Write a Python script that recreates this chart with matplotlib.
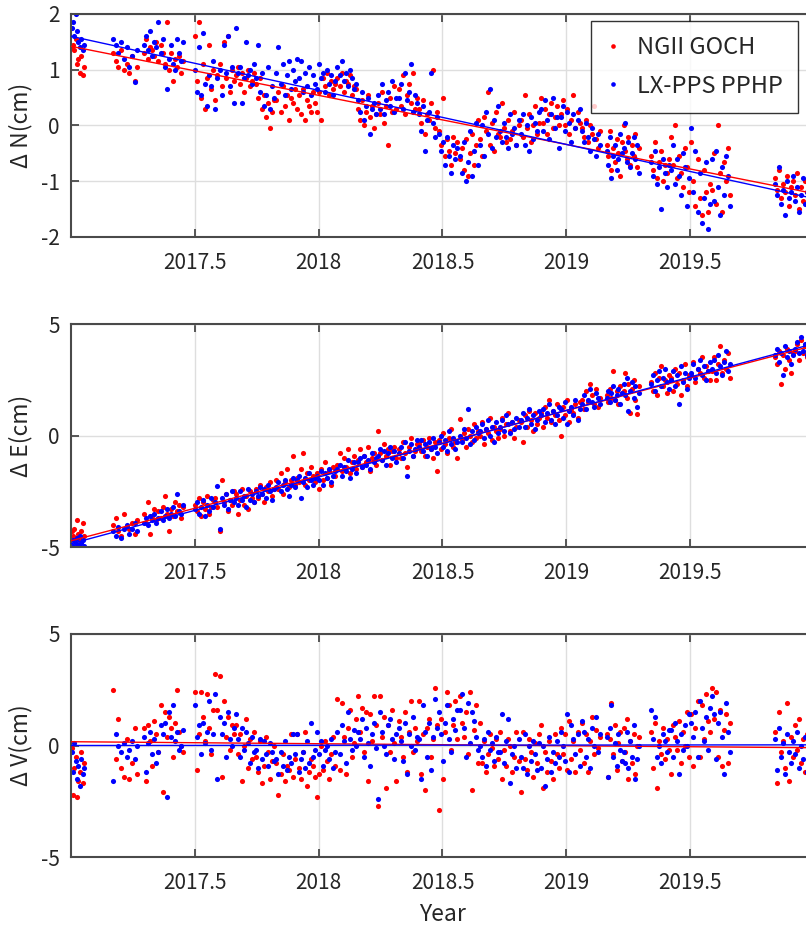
import matplotlib
matplotlib.use('Agg')
import matplotlib.pyplot as plt
import numpy as np

plt.rcParams['font.family'] = ['Noto Sans CJK KR', 'DejaVu Sans']

# observation epochs, days since 2017-01-01 (rows of 10)
obs_day = [
    1, 3, 5, 7, 9, 11, 13, 15, 17, 19,
    62, 66, 70, 74, 78, 82, 86, 90, 94, 98,
    108, 111, 114, 117, 120, 123, 126, 129, 132, 135,
    138, 141, 144, 147, 150, 153, 156, 159, 162, 165,
    183, 186, 189, 192, 195, 198, 201, 204, 207, 210,
    213, 216, 219, 222, 225, 228, 231, 234, 237, 240,
    243, 246, 249, 252, 255, 258, 261, 264, 267, 270,
    273, 276, 279, 282, 285, 288, 291, 294, 297, 300,
    303, 306, 309, 312, 315, 318, 321, 324, 327, 330,
    333, 336, 339, 342, 345, 348, 351, 354, 357, 360,
    363, 366, 369, 372, 375, 378, 381, 384, 387, 390,
    393, 396, 399, 402, 405, 408, 411, 414, 417, 420,
    423, 426, 429, 432, 435, 438, 441, 444, 447, 450,
    453, 456, 459, 462, 465, 468, 471, 474, 477, 480,
    483, 486, 489, 492, 495, 498, 501, 504, 507, 510,
    513, 516, 519, 522, 525, 528, 531, 534, 537, 540,
    543, 546, 549, 552, 555, 558, 561, 564, 567, 570,
    573, 576, 579, 582, 585, 588, 591, 594, 597, 600,
    603, 606, 609, 612, 615, 618, 621, 624, 627, 630,
    633, 636, 639, 642, 645, 648, 651, 654, 657, 660,
    663, 666, 669, 672, 675, 678, 681, 684, 687, 690,
    693, 696, 699, 702, 705, 708, 711, 714, 717, 720,
    723, 726, 729, 732, 735, 738, 741, 744, 747, 750,
    753, 756, 759, 762, 765, 768, 771, 774, 777, 780,
    790, 792, 795, 797, 800, 802, 805, 807, 810, 812,
    815, 817, 820, 822, 825, 827, 830, 832, 835, 837,
    855, 858, 861, 864, 867, 870, 873, 876, 879, 882,
    885, 888, 891, 894, 897, 900, 903, 906, 909, 912,
    915, 918, 921, 924, 927, 930, 933, 936, 939, 942,
    945, 948, 951, 954, 957, 960, 963, 966, 969, 972,
    1038, 1041, 1044, 1047, 1050, 1053, 1056, 1059, 1062, 1065,
    1068, 1071, 1074, 1077, 1080, 1083, 1086, 1089, 1092, 1095,
]

# Delta N (cm)
dN_goch = [
    1.40, 1.45, 1.35, 1.55, 1.10, 1.20, 0.95, 1.25, 0.90, 1.05,
    1.30, 1.15, 1.05, 1.35, 1.00, 1.10, 0.95, 1.25, 0.80, 1.05,
    1.30, 1.55, 1.20, 1.40, 1.35, 1.25, 1.50, 1.15, 1.45, 1.30,
    1.10, 1.85, 1.00, 1.30, 0.80, 1.20, 1.05, 1.25, 0.95, 1.15,
    1.60, 0.80, 1.85, 0.50, 1.10, 0.30, 0.85, 1.45, 0.65, 1.00,
    0.45, 0.90, 1.10, 0.70, 1.50, 0.85, 1.60, 0.60, 1.00, 0.80,
    0.90, 1.05, 0.75, 0.95, 0.60, 0.85, 1.00, 0.70, 0.80, 0.95,
    0.75, 0.50, 0.85, 0.30, 0.55, 0.15, 0.40, -0.05, 0.25, 0.45,
    0.45, 0.60, 0.25, 0.70, 0.35, 0.55, 0.10, 0.50, 0.40, 0.65,
    0.30, 0.55, 0.20, 0.65, 0.10, 0.45, 0.35, 0.25, 0.60, 0.40,
    0.25, 0.60, 0.10, 0.85, 0.70, 0.95, 0.55, 0.80, 0.65, 0.75,
    0.85, 0.70, 0.95, 0.60, 0.80, 0.75, 0.90, 0.55, 0.70, 0.65,
    0.30, 0.10, 0.45, 0.00, 0.25, 0.55, 0.15, 0.35, -0.05, 0.20,
    0.40, 0.20, 0.60, 0.05, 0.35, -0.35, 0.50, 0.25, 0.70, 0.30,
    0.65, 0.35, 0.90, 0.20, 0.55, 0.75, 0.40, 0.95, 0.30, 0.50,
    0.30, 0.05, 0.45, -0.15, 0.20, 0.10, 0.40, 1.00, -0.05, 0.25,
    -0.10, -0.35, 0.50, -0.55, -0.25, -0.45, -0.70, -0.20, -0.50, -0.30,
    -0.60, -0.40, -0.80, -0.25, -0.90, -0.50, -0.15, -0.70, -0.35, 0.10,
    -0.25, -0.55, 0.15, -0.10, 0.60, -0.35, 0.05, -0.45, 0.25, -0.15,
    -0.20, 0.40, -0.05, -0.30, 0.10, -0.25, -0.10, 0.25, -0.35, 0.00,
    0.10, -0.20, 0.55, -0.05, 0.20, -0.30, 0.00, 0.35, -0.15, 0.05,
    0.50, 0.05, 0.30, -0.15, 0.20, 0.40, -0.05, 0.15, 0.35, 0.00,
    0.20, 0.45, 0.00, 0.30, -0.15, 0.10, 0.55, -0.05, 0.25, 0.05,
    -0.05, -0.20, 0.10, -0.30, 0.00, -0.15, 0.35, -0.25, -0.40, -0.10,
    -0.35, -0.55, -0.10, -0.80, -0.40, -0.65, -0.25, -0.50, -0.90, -0.30,
    0.00, -0.45, -0.60, -0.20, -0.70, -0.35, -0.55, -0.15, -0.75, -0.40,
    -0.55, -0.80, -0.30, -0.95, -0.65, -0.45, -1.00, -0.70, -0.85, -0.60,
    -0.20, -0.70, 0.00, -0.95, -0.55, -0.85, -1.10, -0.40, -0.75, -1.20,
    -0.30, -1.00, -1.45, -0.60, -1.30, -1.60, -0.80, -1.20, -1.55, -1.05,
    -1.15, -0.50, -1.40, 0.00, -0.85, -1.55, -0.65, -1.00, -0.40, -1.25,
    -0.95, -1.15, -0.80, -1.30, -1.05, -1.20, -0.90, -1.45, -1.10, -1.00,
    -1.25, -0.85, -1.50, -1.10, -1.35, -1.00, -1.20, -0.95, -1.40, -1.15,
]
dN_pphp = [
    1.75, 1.85, 1.60, 2.00, 1.70, 1.50, 1.40, 1.55, 1.35, 1.45,
    1.55, 1.45, 1.30, 1.50, 1.20, 1.40, 1.05, 1.25, 0.78, 1.35,
    1.45, 1.60, 1.35, 1.70, 1.25, 1.50, 1.40, 1.85, 1.30, 1.55,
    1.05, 0.65, 1.20, 1.45, 1.10, 1.00, 1.55, 1.30, 1.15, 1.50,
    1.00, 0.60, 1.40, 0.55, 1.65, 0.75, 0.35, 0.90, 0.70, 1.15,
    0.30, 0.85, 1.00, 0.55, 1.45, 0.95, 1.60, 0.70, 1.05, 0.40,
    1.75, 0.95, 1.05, 0.40, 0.85, 1.50, 0.90, 1.00, 0.75, 1.10,
    0.85, 1.45, 0.60, 0.95, 0.35, 0.55, 1.05, 0.30, 0.70, 0.50,
    0.95, 1.40, 0.75, 1.10, 0.55, 0.90, 1.15, 0.65, 1.00, 0.80,
    1.20, 0.85, 1.15, 0.60, 0.95, 0.70, 1.05, 0.55, 0.90, 0.75,
    0.65, 1.10, 0.85, 0.95, 0.60, 1.00, 0.75, 0.90, 0.55, 0.80,
    1.05, 0.90, 1.15, 0.80, 0.95, 0.70, 1.00, 0.85, 0.65, 0.75,
    0.45, 0.25, 0.60, 0.10, 0.35, 0.50, -0.15, 0.30, 0.40, 0.20,
    0.55, 0.30, 0.75, 0.20, 0.45, 0.60, 0.35, 0.80, 0.25, 0.50,
    0.50, 0.75, 0.30, 0.95, 0.45, 0.60, 1.10, 0.25, 0.55, 0.40,
    0.20, -0.10, 0.35, -0.45, 0.10, 0.25, 0.95, 0.05, -0.20, 0.15,
    -0.15, -0.45, -0.30, -0.70, -0.20, -0.55, -0.85, -0.35, -0.60, -0.40,
    -0.55, -0.85, -0.30, -1.00, -0.65, -0.10, -0.90, -0.45, 0.05, -0.70,
    -0.35, 0.00, -0.55, 0.25, -0.15, 0.65, -0.40, 0.10, -0.20, 0.35,
    -0.10, -0.30, 0.05, -0.20, -0.40, 0.20, -0.15, -0.05, -0.35, 0.10,
    -0.15, 0.20, -0.35, 0.00, -0.45, 0.15, -0.25, 0.05, -0.10, 0.25,
    0.30, -0.10, 0.45, 0.10, -0.25, 0.20, 0.50, -0.05, 0.15, -0.40,
    0.15, 0.35, -0.10, 0.25, 0.05, -0.30, 0.20, -0.05, 0.10, 0.30,
    -0.10, -0.30, 0.05, -0.20, -0.45, -0.05, -0.25, -0.55, -0.15, -0.35,
    -0.45, -0.70, -0.20, -0.95, -0.55, -0.35, -0.80, -0.60, -0.15, -0.50,
    -0.40, 0.05, -0.65, -0.30, -0.75, -0.50, -0.20, -0.60, -0.35, -0.85,
    -0.65, -0.90, -0.45, -1.05, -0.75, -1.50, -0.60, -0.85, -1.10, -0.70,
    -0.80, -0.35, -1.05, -0.60, -0.90, -1.25, -0.50, -0.75, -1.45, -0.95,
    -0.05, -1.20, -0.45, -1.55, -0.85, -1.75, -1.30, -0.65, -1.85, -1.40,
    -0.60, -1.35, -0.45, -1.10, -1.60, -0.75, -1.25, -0.55, -0.90, -1.45,
    -1.05, -1.25, -0.75, -1.40, -1.15, -1.60, -1.00, -1.30, -1.20, -0.90,
    -1.35, -1.10, -1.55, -1.25, -0.95, -1.40, -1.20, -1.65, -1.05, -1.30,
]

# Delta E (cm)
dE_goch = [
    -4.3, -4.5, -4.2, -4.6, -3.8, -4.4, -4.7, -4.3, -3.9, -4.5,
    -4.0, -3.7, -4.3, -4.5, -3.5, -4.1, -4.2, -3.9, -4.4, -3.8,
    -3.5, -3.9, -3.0, -4.4, -3.6, -3.3, -3.8, -3.4, -3.7, -3.2,
    -2.7, -3.5, -4.3, -3.3, -3.6, -3.0, -3.4, -3.1, -3.7, -3.2,
    -3.1, -3.4, -2.8, -3.6, -3.0, -3.3, -2.7, -3.5, -3.2, -2.9,
    -2.8, -3.2, -4.3, -2.0, -3.0, -2.6, -3.4, -2.9, -3.1, -2.5,
    -2.6, -3.5, -2.9, -2.4, -3.1, -2.7, -3.3, -2.5, -2.8, -3.0,
    -2.4, -2.8, -2.2, -2.6, -3.0, -2.3, -2.5, -2.1, -2.7, -2.4,
    -2.0, -2.4, -1.7, -2.6, -2.1, -1.5, -2.3, -2.0, -0.9, -2.2,
    -1.9, -2.1, -1.5, -0.8, -2.2, -1.7, -2.0, -1.4, -1.8, -2.1,
    -1.7, -2.4, -1.5, -2.0, -1.2, -1.9, -1.6, -2.2, -1.4, -1.8,
    -1.3, -0.8, -1.6, -1.0, -1.4, -0.6, -1.7, -1.2, -0.9, -1.5,
    -1.1, -0.6, -1.4, -0.9, -1.2, -0.5, -1.6, -1.0, -0.8, -1.3,
    0.2, -0.8, -1.1, -0.4, -0.9, -0.6, -1.3, -0.7, -0.5, -1.0,
    -0.6, -1.0, -0.3, -0.8, -1.4, -0.5, -0.1, -0.9, -0.7, -0.4,
    -0.4, -0.7, -0.2, -0.9, -0.5, -0.1, -0.6, -1.0, -0.3, -1.6,
    -0.2, -0.6, 0.1, -0.4, -0.8, -0.1, 0.3, -0.5, -0.3, -1.0,
    0.75, -0.2, 0.1, -0.5, 0.3, 0.0, -0.3, 0.5, -0.1, 0.2,
    0.0, 0.6, -0.4, 0.3, 0.1, 0.8, -0.2, 0.4, 0.2, -0.1,
    0.3, 0.8, 0.0, 0.5, 1.0, 0.2, 0.6, -0.1, 0.4, 0.7,
    0.6, -0.3, 0.9, 0.4, 1.1, 0.7, 0.2, 1.0, 0.5, 0.8,
    1.0, 0.4, 1.3, 0.8, 1.6, 0.6, 1.1, 0.9, 1.4, 0.7,
    0.0, 1.3, 0.9, 1.6, 0.6, 1.2, 1.0, 1.4, 0.8, 1.5,
    1.6, 1.2, 2.0, 1.5, 2.3, 1.8, 1.4, 2.1, 1.3, 1.7,
    1.8, 1.5, 2.1, 1.7, 2.9, 1.6, 2.0, 1.4, 2.2, 1.9,
    2.0, 2.8, 1.7, 2.3, 1.0, 2.1, 2.5, 1.6, 0.95, 2.2,
    2.4, 2.0, 2.8, 1.8, 2.6, 3.1, 2.2, 2.5, 1.9, 2.7,
    2.6, 2.0, 3.0, 2.3, 2.8, 1.8, 2.5, 3.2, 2.2, 2.7,
    2.7, 3.3, 2.4, 3.0, 2.8, 3.5, 2.6, 3.1, 2.9, 2.5,
    2.9, 3.5, 2.5, 3.2, 4.0, 2.8, 3.4, 3.0, 3.7, 2.6,
    3.5, 3.2, 3.8, 2.3, 3.6, 3.0, 3.9, 3.4, 2.8, 3.7,
    3.8, 4.1, 3.4, 4.3, 3.7, 4.0, 3.5, 4.4, 3.9, 4.2,
]
dE_pphp = [
    -4.9, -4.7, -5.0, -4.8, -4.6, -4.9, -4.5, -4.8, -4.7, -4.95,
    -4.3, -4.5, -4.1, -4.6, -4.2, -4.0, -4.4, -4.2, -3.9, -4.3,
    -3.9, -3.7, -4.0, -3.6, -3.8, -3.5, -3.9, -3.7, -3.4, -3.8,
    -3.6, -3.3, -3.7, -3.5, -3.2, -3.6, -2.6, -3.4, -3.5, -3.1,
    -3.3, -3.0, -3.5, -3.2, -2.9, -3.6, -3.1, -3.4, -2.8, -3.2,
    -3.0, -2.25, -4.2, -2.8, -3.1, -2.6, -3.3, -2.9, -2.5, -3.0,
    -2.8, -3.1, -2.5, -2.9, -2.7, -3.2, -2.4, -2.9, -2.6, -3.0,
    -2.5, -2.7, -2.3, -2.6, -2.4, -2.8, -2.2, -2.5, -2.9, -2.4,
    -2.3, -2.1, -2.5, -2.2, -2.0, -2.4, -2.7, -2.2, -1.9, -2.3,
    -2.0, -1.8, -2.8, -2.1, -1.9, -2.3, -1.7, -2.0, -2.2, -1.9,
    -1.8, -2.0, -1.6, -2.2, -1.7, -1.9, -1.5, -2.1, -1.8, -1.6,
    -1.5, -1.3, -1.8, -1.4, -1.6, -1.1, -1.9, -1.5, -1.2, -1.7,
    -1.2, -1.0, -1.4, -0.9, -1.3, -1.1, -1.5, -0.8, -1.2, -1.0,
    -0.9, -0.6, -1.1, -0.7, -1.3, -0.8, -0.5, -1.0, -0.7, -1.2,
    -0.8, -0.5, -1.0, -0.3, -1.8, -0.7, -0.4, -0.9, -0.6, -0.2,
    -0.5, -0.2, -0.7, -0.4, -0.9, -0.3, -0.6, -0.1, -0.5, -0.8,
    -0.3, 0.0, -0.5, -0.2, -0.7, 0.2, -0.4, -0.1, -0.6, -0.3,
    0.0, -0.3, 0.3, -0.1, 1.2, -0.4, 0.2, -0.2, 0.4, 0.1,
    0.2, 0.5, -0.1, 0.3, 0.7, 0.0, 0.4, -0.3, 0.6, 0.1,
    0.4, 0.7, 0.2, 0.9, 0.5, 0.1, 0.6, 0.3, 0.8, 0.4,
    0.7, 1.0, 0.4, 0.8, 1.2, 0.5, 0.9, 0.3, 0.7, 1.1,
    0.9, 1.2, 0.6, 1.0, 1.4, 0.7, 1.1, 0.5, 0.9, 1.3,
    1.2, 0.8, 1.5, 0.5, 1.1, 1.3, 0.9, 1.6, 0.7, 1.2,
    1.4, 1.8, 1.2, 1.6, 2.1, 1.5, 1.3, 1.9, 1.7, 1.4,
    1.7, 2.0, 1.5, 1.9, 2.2, 1.6, 1.8, 2.1, 1.4, 1.9,
    2.3, 1.8, 2.6, 1.1, 2.0, 2.4, 1.7, 2.2, 1.3, 1.9,
    2.3, 2.7, 2.0, 2.5, 2.9, 2.2, 2.6, 3.0, 2.4, 2.1,
    2.5, 2.9, 2.2, 2.7, 1.4, 3.1, 2.4, 2.8, 2.1, 2.6,
    2.8, 3.2, 2.6, 3.0, 3.4, 2.7, 3.1, 2.5, 2.9, 3.3,
    3.0, 3.4, 2.8, 3.6, 3.1, 2.7, 3.3, 3.8, 2.9, 3.2,
    3.6, 3.9, 3.3, 3.7, 2.7, 4.0, 3.5, 3.8, 3.2, 3.6,
    3.9, 4.2, 3.7, 4.4, 3.8, 4.1, 3.6, 4.3, 4.0, 3.9,
]

# Delta V (cm)
dV_goch = [
    -0.1, -2.2, -1.0, -0.5, -2.3, -1.6, -1.2, -0.3, -1.7, -0.8,
    2.5, -0.6, 1.2, -1.0, -1.4, 0.3, -1.5, -0.8, 0.8, -1.3,
    0.8, -1.6, 0.9, 0.2, -0.9, 1.1, 0.5, -0.3, 1.8, -2.1,
    1.5, 0.4, 1.3, 0.8, -0.5, 1.0, 2.5, 0.6, 0.0, -0.3,
    2.4, -1.1, 0.5, 2.4, 1.3, 0.2, 2.3, 0.8, -0.4, 1.6,
    3.2, 1.6, 3.1, -1.4, 2.0, 0.4, 1.3, -0.2, 0.9, 0.5,
    0.9, -0.4, 0.5, -1.6, 0.0, 1.2, -1.0, 0.3, -0.6, 0.6,
    -0.5, -1.2, 0.2, -1.7, -0.9, 0.4, -0.3, -1.5, -0.7, 0.0,
    -0.8, -2.2, -1.3, -0.4, -1.6, -0.9, -1.1, 0.5, -1.4, -0.6,
    0.5, -1.0, -1.5, -0.3, 0.6, -1.8, -1.2, -0.6, -0.9, -1.4,
    -2.3, -1.3, 0.0, -1.1, 0.2, -0.7, -1.5, -0.4, 0.4, -0.9,
    2.1, -1.1, 1.9, 0.4, -1.3, 0.8, 1.6, -0.5, 0.1, 1.2,
    2.2, 0.6, 1.7, -0.3, 1.5, -1.6, 1.4, 0.2, 2.2, 0.9,
    -2.7, 2.2, 0.4, 1.3, -1.9, 0.9, -0.3, 1.6, 0.1, -1.6,
    1.1, 0.4, -0.5, 1.5, -1.2, 0.6, 2.0, -0.3, 0.8, 0.2,
    2.0, -1.3, 0.5, -2.0, 0.8, 1.2, -0.5, 0.3, 2.6, 0.9,
    -2.9, 1.2, -1.5, 0.6, 2.4, 1.8, -0.2, 0.9, 2.0, 0.3,
    2.2, 1.0, 0.4, 1.5, -0.4, 2.4, -2.0, 0.7, 1.8, -0.8,
    1.0, -0.8, 0.2, -1.2, -0.4, 0.5, -0.1, -0.9, 0.3, -0.6,
    0.6, -1.5, -0.2, -0.9, 0.3, 0.0, -1.2, -0.5, 0.6, -0.7,
    -2.1, 0.6, -0.6, -1.1, 0.3, -0.3, -1.4, 0.1, -0.8, 0.5,
    0.9, -1.9, -0.3, -1.2, 0.2, -0.7, -1.5, 0.5, -0.4, -1.0,
    0.8, -0.4, 0.5, -1.1, 1.1, -0.6, 0.2, -1.2, 0.6, -0.2,
    1.0, -0.8, 0.5, -1.2, 0.2, 1.3, -0.4, 0.7, -0.1, 0.4,
    0.5, -1.4, 0.3, 1.9, -0.4, 0.9, -1.1, 0.1, 0.6, -0.7,
    0.8, -0.3, 1.2, -1.5, 0.2, -0.8, 0.5, -1.3, 0.0, 0.4,
    0.6, -1.0, 1.0, -1.9, 0.2, -0.4, 0.8, -0.6, 0.3, -0.2,
    -1.3, 0.9, 0.4, -0.2, 1.1, -0.8, 0.6, 0.0, 1.5, -0.5,
    1.4, -0.9, 0.8, 2.0, -0.5, 1.8, 0.3, 2.3, 1.1, 0.6,
    2.6, 1.2, 2.4, -0.5, 1.6, -0.9, 0.7, 1.4, -0.8, 1.0,
    0.6, -1.7, 1.5, -0.3, 0.2, -1.0, 1.9, -1.6, 0.4, -0.5,
    0.9, -0.2, 1.2, -0.8, 0.3, -1.2, 0.5, 0.0, -0.6, 0.7,
]
dV_pphp = [
    -0.3, -1.2, 0.1, -0.7, -1.5, -0.9, -1.8, -0.6, -1.3, -1.0,
    -1.6, 0.5, 0.0, -0.3, 0.1, -0.5, -0.2, 0.2, -0.6, 0.0,
    0.4, -1.2, 0.1, 0.6, -0.4, 0.3, -0.8, -0.3, 0.9, 0.5,
    1.0, -2.3, 1.5, 0.4, 1.8, 0.2, 0.6, -0.2, 0.0, 0.7,
    1.8, 0.4, 0.9, -0.4, 1.0, 0.1, 0.6, 2.0, -0.2, 0.5,
    2.3, -1.5, 1.3, 0.5, 1.0, -0.5, 1.5, 0.3, 0.0, 0.8,
    1.4, 0.3, -0.5, 0.8, -0.2, 0.6, 0.1, -0.8, 0.4, -0.3,
    -0.2, -1.0, 0.3, -0.6, 0.2, -0.4, -0.9, 0.1, -0.3, -0.7,
    -0.6, -1.3, -0.3, -0.9, 0.2, -1.1, -0.5, -0.8, 0.5, -0.4,
    0.5, -1.2, -0.6, -0.3, -1.0, 0.2, -0.8, 1.0, -0.5, -0.2,
    0.6, -0.4, 0.2, -0.9, -0.2, 0.0, -0.6, 0.3, -1.0, -0.3,
    0.6, -0.4, 0.9, 0.2, -0.8, 1.5, 0.3, -0.2, 0.7, 0.0,
    0.6, 0.3, 1.2, -0.5, 0.8, 0.1, -0.9, 0.5, 1.0, -0.1,
    -2.4, 1.5, 0.6, 0.0, -0.4, 0.9, 1.2, 0.3, -0.6, 0.5,
    0.8, 0.2, -0.7, 1.0, -1.3, 0.5, 0.0, 1.3, -0.2, 0.4,
    0.3, -1.5, 1.8, 0.6, -0.5, 1.0, -1.1, 0.4, 2.1, 0.8,
    1.5, 0.5, -0.7, 1.0, 1.8, 0.3, -0.3, 1.2, 0.7, 1.6,
    1.6, 2.3, 0.8, -0.5, 1.9, 0.1, 1.5, 1.1, 0.4, -0.2,
    0.0, -0.5, 0.3, -0.9, 0.6, -0.2, 0.1, -0.7, 0.4, -0.3,
    -0.3, 1.4, -0.8, 0.2, 1.2, -1.7, -0.4, 0.0, -1.0, 0.3,
    -0.5, -1.0, 0.5, -1.3, 0.0, -0.7, 0.2, -0.4, -1.1, 0.1,
    -1.0, 0.0, -1.8, -0.6, 0.4, -1.2, -0.3, -0.8, 0.2, -0.5,
    0.6, 0.0, -0.7, 1.4, -1.2, 0.9, 0.3, -0.4, 0.5, -0.9,
    1.1, 0.6, -0.5, 0.3, -1.0, 0.8, 0.0, 1.3, -0.3, 0.5,
    0.4, -1.4, 0.8, 1.8, -0.5, 0.1, -0.9, 0.5, -0.2, -0.7,
    -0.3, -0.8, 0.6, -1.0, 0.2, -0.5, 0.9, -1.5, -0.6, 0.0,
    1.6, 0.3, 1.3, -0.5, 0.0, -0.8, 0.5, 0.2, -0.3, 0.7,
    0.7, -0.5, 1.0, 0.2, -1.3, 0.5, -0.2, 0.9, 0.0, 1.4,
    1.0, 0.4, 1.5, -0.5, 2.0, 0.8, 0.2, 1.3, -0.2, 1.7,
    2.2, 1.4, -0.6, 1.0, 1.5, 0.4, -1.3, 1.9, 0.6, -0.3,
    0.3, -1.1, 0.8, -0.5, 0.1, -1.3, 0.5, -0.3, -0.8, 0.2,
    -0.4, 0.6, -1.0, 0.0, -0.6, 0.4, -1.2, -0.2, 0.3, -0.8,
]

# linear trend lines (start / end of the record)
trend_year = [2017.0, 2020.0]
trend_N_goch = [1.42, -1.22]
trend_N_pphp = [1.60, -1.31]
trend_E_goch = [-4.72, 4.04]
trend_E_pphp = [-4.85, 4.12]
trend_V_goch = [0.17, -0.10]
trend_V_pphp = [0.00, 0.03]

labels = ['NGII GOCH', 'LX-PPS PPHP']
year_ticks = [2017.5, 2018, 2018.5, 2019, 2019.5]
year_ticklabels = ['2017.5', '2018', '2018.5', '2019', '2019.5']

for arr in (dN_goch, dN_pphp, dE_goch, dE_pphp, dV_goch, dV_pphp):
    assert len(arr) == len(obs_day), len(arr)

year = 2017 + np.array(obs_day) / 365.25

RED = '#ff0000'
BLUE = '#0000ff'
DARK = '#262626'

fig = plt.figure(figsize=(8.06, 9.25), dpi=100)

panels = [
    (0.7438, dN_goch, dN_pphp, trend_N_goch, trend_N_pphp, (-2, 2), [-2, -1, 0, 1, 2], '\u0394 N(cm)'),
    (0.4086, dE_goch, dE_pphp, trend_E_goch, trend_E_pphp, (-5, 5), [-5, 0, 5], '\u0394 E(cm)'),
    (0.0735, dV_goch, dV_pphp, trend_V_goch, trend_V_pphp, (-5, 5), [-5, 0, 5], '\u0394 V(cm)'),
]

axes = []
for bottom, y_r, y_b, t_r, t_b, ylim, yticks, ylabel in panels:
    ax = fig.add_axes([0.0881, bottom, 0.9218, 0.2411])
    h_r, = ax.plot(year, y_r, 'o', color=RED, ms=3.7, mew=0, ls='none', label=labels[0])
    h_b, = ax.plot(year, y_b, 'o', color=BLUE, ms=3.7, mew=0, ls='none', label=labels[1])
    ax.plot(trend_year, t_r, color=RED, lw=1.0, zorder=3)
    ax.plot(trend_year, t_b, color=BLUE, lw=1.0, zorder=3)

    ax.set_xlim(2017.0, 2020.0)
    ax.set_ylim(*ylim)
    ax.set_xticks(year_ticks)
    ax.set_xticklabels(year_ticklabels)
    ax.set_yticks(yticks)
    ax.set_yticklabels([str(v) for v in yticks])
    ax.grid(True, color='#dedede', lw=1.0)
    ax.set_axisbelow(True)
    for s in ax.spines.values():
        s.set_color('#4a4a4a')
        s.set_linewidth(1.5)
    ax.tick_params(direction='in', length=6, width=1.3, top=True, right=True,
                   labelsize=15, colors='#4a4a4a', labelcolor=DARK)
    ax.tick_params(axis='x', pad=11)
    ax.tick_params(axis='y', pad=8)
    ax.set_ylabel(ylabel, fontsize=16.5, color=DARK, labelpad=6)
    axes.append(ax)

axes[-1].set_xlabel('Year', fontsize=16.5, color=DARK, labelpad=6)

leg = axes[0].legend(handles=[h_r, h_b], loc='upper right',
                     bbox_to_anchor=(798 / 806, (925 - 21) / 925),
                     bbox_transform=fig.transFigure, borderaxespad=0,
                     fontsize=17, frameon=True, fancybox=False,
                     handlelength=0.6, handletextpad=0.7, markerscale=0.9,
                     borderpad=0.65, labelspacing=0.65)
leg.get_frame().set_edgecolor('#000000')
leg.get_frame().set_linewidth(1.0)
for t in leg.get_texts():
    t.set_color(DARK)

fig.savefig('out.png', dpi=100)
